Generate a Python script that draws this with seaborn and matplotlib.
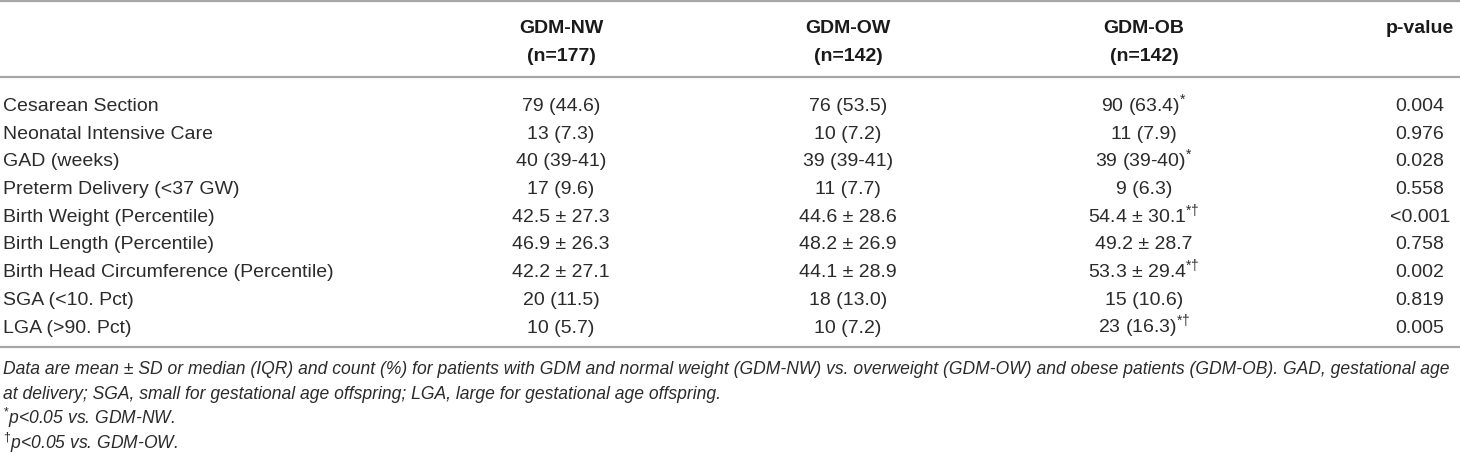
import numpy as np
import pandas as pd
import seaborn as sns
from matplotlib import pyplot as plt

# table content
groups = ['GDM-NW', 'GDM-OW', 'GDM-OB']
group_n = ['(n=177)', '(n=142)', '(n=142)']
p_header = 'p-value'

variables = ['Cesarean Section', 'Neonatal Intensive Care', 'GAD (weeks)',
             'Preterm Delivery (<37 GW)', 'Birth Weight (Percentile)',
             'Birth Length (Percentile)', 'Birth Head Circumference (Percentile)',
             'SGA (<10. Pct)', 'LGA (>90. Pct)']
gdm_nw = ['79 (44.6)', '13 (7.3)', '40 (39-41)', '17 (9.6)', '42.5 ± 27.3',
          '46.9 ± 26.3', '42.2 ± 27.1', '20 (11.5)', '10 (5.7)']
gdm_ow = ['76 (53.5)', '10 (7.2)', '39 (39-41)', '11 (7.7)', '44.6 ± 28.6',
          '48.2 ± 26.9', '44.1 ± 28.9', '18 (13.0)', '10 (7.2)']
gdm_ob = ['90 (63.4)', '11 (7.9)', '39 (39-40)', '9 (6.3)', '54.4 ± 30.1',
          '49.2 ± 28.7', '53.3 ± 29.4', '15 (10.6)', '23 (16.3)']
ob_marks = ['*', '', '*', '', '*†', '', '*†', '', '*†']
p_values = ['0.004', '0.976', '0.028', '0.558', '<0.001', '0.758', '0.002',
            '0.819', '0.005']

notes = [
    'Data are mean ± SD or median (IQR) and count (%) for patients with GDM and normal weight '
    '(GDM-NW) vs. overweight (GDM-OW) and obese patients (GDM-OB). GAD, gestational age',
    'at delivery; SGA, small for gestational age offspring; LGA, large for gestational age offspring.',
]
sig_notes = [('*', 'p<0.05 vs. GDM-NW.'), ('†', 'p<0.05 vs. GDM-OW.')]

df = pd.DataFrame({'variable': variables, 'nw': gdm_nw, 'ow': gdm_ow,
                   'ob': gdm_ob, 'mark': ob_marks, 'p': p_values})

sns.set_theme(style='white')
plt.rcParams['font.family'] = ['Liberation Sans', 'DejaVu Sans']
plt.rcParams['mathtext.fontset'] = 'custom'
plt.rcParams['mathtext.rm'] = 'Liberation Sans'
plt.rcParams['mathtext.it'] = 'Liberation Sans:italic'

fig = plt.figure(figsize=(14.6, 4.56), dpi=100)
ax = fig.add_axes([0, 0, 1, 1])
ax.set_xlim(0, 1460)
ax.set_ylim(456, 0)
ax.axis('off')

txt = '#2b2b2b'
head = '#1a1a1a'
rule = '#a6a6a6'
fs = 14
fs_note = 12.65
base = 6  # baseline offset from visual centre

col_x = [561, 848, 1144]
p_x = 1420
row_y = 105 + 27.7 * np.arange(len(df))

# rules
ax.hlines([1.5, 78, 348], 0, 1460, color=rule, lw=1.6)

# header
for x, g, n in zip(col_x, groups, group_n):
    ax.text(x, 27 + base, g, ha='center', va='baseline', fontsize=fs, fontweight='bold', color=head)
    ax.text(x, 55 + base, n, ha='center', va='baseline', fontsize=fs, fontweight='bold', color=head)
ax.text(p_x, 27 + base, p_header, ha='center', va='baseline', fontsize=fs,
        fontweight='bold', color=head)

# body
for y, r in zip(row_y + base, df.itertuples()):
    ax.text(3, y, r.variable, ha='left', va='baseline', fontsize=fs, color=txt)
    ax.text(col_x[0], y, r.nw, ha='center', va='baseline', fontsize=fs, color=txt)
    ax.text(col_x[1], y, r.ow, ha='center', va='baseline', fontsize=fs, color=txt)
    ob = r.ob + ('$^{' + r.mark + '}$' if r.mark else '')
    ax.text(col_x[2], y, ob, ha='center', va='baseline', fontsize=fs, color=txt)
    ax.text(p_x, y, r.p, ha='center', va='baseline', fontsize=fs, color=txt)

# footnotes
fn_y = [368, 393, 418, 443]
for y, line in zip(fn_y[:2], notes):
    ax.text(3, y + base, line, ha='left', va='baseline', fontsize=fs_note, style='italic', color=txt)
for y, (m, line) in zip(fn_y[2:], sig_notes):
    ax.text(3, y + base, '$^{' + m + '}$' + line, ha='left', va='baseline', fontsize=fs_note,
            style='italic', color=txt)

fig.savefig('out.png', dpi=100)
